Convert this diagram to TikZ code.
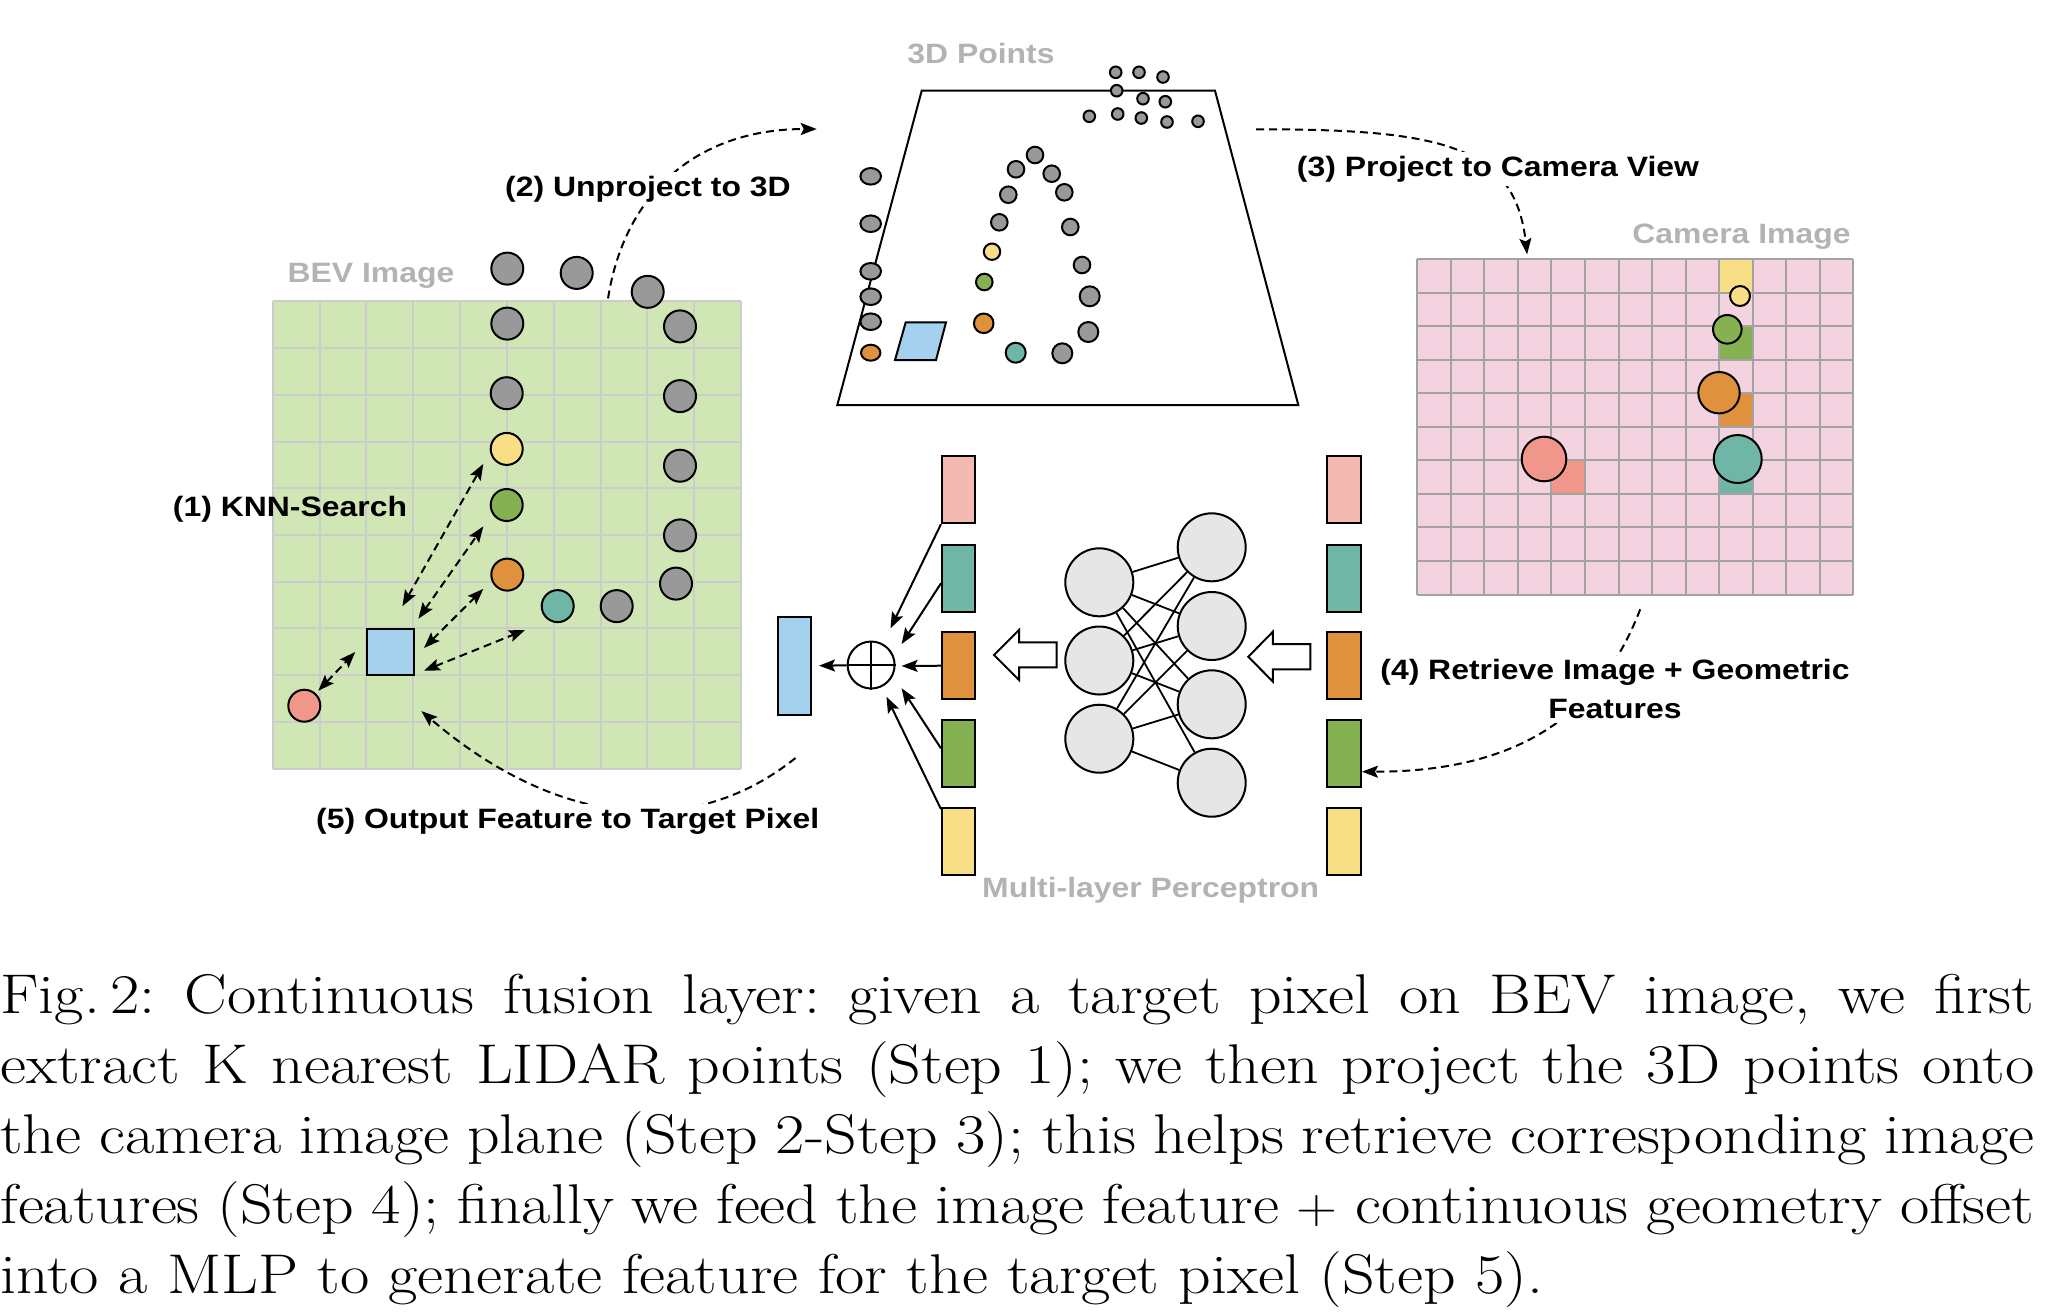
\documentclass[tikz,border=0pt]{standalone}
\usepackage{fontspec}
\usepackage{graphicx}
\newfontfamily\labfont{Liberation Sans}
\usetikzlibrary{arrows.meta,calc,shapes.geometric}
\definecolor{bevfill}{HTML}{D1E6B5}
\definecolor{bevline}{HTML}{CCCCCC}
\definecolor{camfill}{HTML}{F3D3DF}
\definecolor{camline}{HTML}{A3A3A3}
\definecolor{graytxt}{HTML}{B3B3B3}
\definecolor{dotgray}{HTML}{999999}
\definecolor{neur}{HTML}{E6E6E6}
\definecolor{pinkc}{HTML}{F4BAB2}
\definecolor{tealc}{HTML}{6FB6A6}
\definecolor{orangec}{HTML}{E0913D}
\definecolor{greenc}{HTML}{86B152}
\definecolor{yellowc}{HTML}{F8DE84}
\definecolor{bluec}{HTML}{A5D1EF}
\definecolor{redc}{HTML}{F0968A}
\newcommand{\sx}[1]{\scalebox{1.14}[1]{#1}}
\newcommand{\capline}[1]{\sx{\makebox[892.1pt][s]{#1}}}
\begin{document}
\begin{tikzpicture}[x=0.5pt,y=-0.5pt,
  >={Stealth[length=8pt,width=6pt,inset=1.5pt]},
  lab/.style={font=\labfont\bfseries\fontsize{14}{19.2}\selectfont, inner sep=2pt},
  glab/.style={lab, text=graytxt},
  dot/.style={circle, draw, line width=1pt, inner sep=0pt, minimum size=16pt},
  feat/.style={draw, line width=1pt, minimum width=16.75pt, minimum height=33.5pt, inner sep=0pt},
  neuron/.style={circle, draw, line width=1pt, fill=neur, minimum size=34pt, inner sep=0pt},
  dsh/.style={line width=1pt, dash pattern=on 4pt off 2.5pt},
  sol/.style={line width=1pt},
  shape3d/.style={draw, line width=1pt}]
\useasboundingbox (0,0) rectangle (2054,1314);

% ---------------- BEV image ----------------
\node[fill=bevfill, minimum width=234.15pt, minimum height=233.6pt, inner sep=0pt, anchor=north west] (bev) at (272.7,301.4) {};
\foreach \i in {0,...,10} {
  \draw[bevline, line width=1pt] (272.7+46.83*\i,301.4) -- (272.7+46.83*\i,768.6);
  \draw[bevline, line width=1pt] (272.7,301.4+46.72*\i) -- (741,301.4+46.72*\i);
}
\node[draw, line width=1pt, fill=bluec, minimum width=23.4pt, minimum height=23.4pt, inner sep=0pt] (sq) at (390.3,652) {};
\node[dot, fill=dotgray] (g1) at (507.3,268.6) {};
\node[dot, fill=dotgray] (g2) at (576.7,272.9) {};
\node[dot, fill=dotgray] (g3) at (647.7,291.8) {};
\node[dot, fill=dotgray] (g4) at (507.3,323.6) {};
\node[dot, fill=dotgray] (g5) at (680,326.4) {};
\node[dot, fill=dotgray] (g6) at (506.7,393.2) {};
\node[dot, fill=dotgray] (g7) at (680,396.1) {};
\node[dot, fill=yellowc] (yel) at (506.7,448.9) {};
\node[dot, fill=dotgray] (g8) at (680,465.7) {};
\node[dot, fill=greenc] (grn) at (506.7,505) {};
\node[dot, fill=dotgray] (g9) at (680,535.4) {};
\node[dot, fill=orangec] (org) at (507.3,574.6) {};
\node[dot, fill=dotgray] (g10) at (676,583.6) {};
\node[dot, fill=tealc] (tea) at (557.7,606.1) {};
\node[dot, fill=dotgray] (g11) at (616.7,606.1) {};
\node[dot, fill=redc] (red) at (304.3,705.7) {};

% KNN arrows
\draw[dsh,<->] ([shift={(-12.3,-21.4)}]sq.north east) -- ([shift={(-23.4,15)}]yel.center);
\draw[dsh,<->] ([shift={(3.7,-8.9)}]sq.north east) -- ([shift={(-23.4,21.4)}]grn.center);
\draw[dsh,<->] ([shift={(9.3,20.4)}]sq.north east) -- ([shift={(-24,14.3)}]org.center);
\draw[dsh,<->] ([shift={(9.3,-5.7)}]sq.south east) -- ([shift={(-32.7,23.9)}]tea.center);
\draw[dsh,<->] ([shift={(14,-15)}]red.center) -- ([shift={(-10.7,0)}]sq.west);

% ---------------- 3D points ----------------
\draw[shape3d] (921.7,90.7) -- (1215,90.7) -- (1298.3,405) -- (837.3,405) -- cycle;
\foreach \x/\y in {1115.7/72.3, 1139/72.3, 1163/77, 1116.7/90.7, 1143/98.7, 1165.3/101.7, 1089.3/116.3, 1117.7/114, 1141.3/118, 1167/122, 1198/121.3}
  \draw[shape3d, fill=dotgray] (\x,\y) circle [radius=5.8];
\foreach \y in {176.3, 223.7, 271.3, 296.7, 321.7}
  \draw[shape3d, fill=dotgray] (870.7,\y) ellipse [x radius=10.3, y radius=8.3];
\draw[shape3d, fill=orangec] (870.7,352.7) ellipse [x radius=9.7, y radius=8];
\draw[shape3d, fill=bluec] (905.7,322.3) -- (946,322.3) -- (936,360) -- (895,360) -- cycle;
\foreach \x/\y in {1035/155, 1016/169.3, 1051.7/173.7, 1008.3/194.7, 1064.3/192.3, 999.3/222.3, 1070.3/227, 1082/265}
  \draw[shape3d, fill=dotgray] (\x,\y) circle [radius=8.3];
\foreach \x/\y in {1089.7/296.3, 1088.3/332, 1062.3/353.3}
  \draw[shape3d, fill=dotgray] (\x,\y) circle [radius=10];
\draw[shape3d, fill=yellowc] (992,251.7) circle [radius=8.2];
\draw[shape3d, fill=greenc] (984.3,282) circle [radius=8.3];
\draw[shape3d, fill=orangec] (983.7,323.3) circle [radius=9.8];
\draw[shape3d, fill=tealc] (1015.7,352.7) circle [radius=10];

% ---------------- Camera image ----------------
\node[fill=camfill, minimum width=218pt, minimum height=167.6pt, inner sep=0pt, anchor=north west] (cam) at (1417.3,259.3) {};
\fill[yellowc] (1719.2,259.3) rectangle (1752.7,292.8);
\fill[greenc] (1719.2,326.3) rectangle (1752.7,359.9);
\fill[orangec] (1719.2,393.4) rectangle (1752.7,426.9);
\fill[tealc] (1719.2,460.4) rectangle (1752.7,493.9);
\fill[redc] (1551.5,460.4) rectangle (1585,493.9);
\foreach \i in {0,...,13}
  \draw[camline, line width=1pt] (1417.3+33.54*\i,259.3) -- (1417.3+33.54*\i,594.5);
\foreach \i in {0,...,10}
  \draw[camline, line width=1pt] (1417.3,259.3+33.52*\i) -- (1853.3,259.3+33.52*\i);
\draw[shape3d, fill=yellowc] (1740,296) circle [radius=10];
\draw[shape3d, fill=greenc] (1727.3,329.3) circle [radius=14.3];
\draw[shape3d, fill=orangec] (1719,392.7) circle [radius=20.7];
\draw[shape3d, fill=redc] (1544,459) circle [radius=22.3];
\draw[shape3d, fill=tealc] (1737.7,459) circle [radius=24];

% ---------------- Feature vectors ----------------
\node[feat, fill=pinkc] (fl1) at (958.7,489.7) {};
\node[feat, fill=tealc] (fl2) at (958.7,578) {};
\node[feat, fill=orangec] (fl3) at (958.7,665.7) {};
\node[feat, fill=greenc] (fl4) at (958.7,753.3) {};
\node[feat, fill=yellowc] (fl5) at (958.7,841.3) {};
\node[feat, fill=pinkc] (fr1) at (1344.2,489.7) {};
\node[feat, fill=tealc] (fr2) at (1344.2,578) {};
\node[feat, fill=orangec] (fr3) at (1344.2,665.7) {};
\node[feat, fill=greenc] (fr4) at (1344.2,753.3) {};
\node[feat, fill=yellowc] (fr5) at (1344.2,841.3) {};
\node[draw, line width=1pt, fill=bluec, minimum width=16.5pt, minimum height=49pt, inner sep=0pt] (outv) at (794.5,666) {};

% oplus
\node[circle, draw, line width=1pt, minimum size=23.5pt, inner sep=0pt] (op) at (871.1,665) {};
\draw[sol] (op.north) -- (op.south) (op.west) -- (op.east);
\coordinate (a1) at ($(op)+(19.4,-36.7)$);
\coordinate (a2) at ($(op)+(30.5,-21)$);
\coordinate (a3) at ($(op)+(30.5,1)$);
\coordinate (a4) at ($(op)+(30.5,23.3)$);
\coordinate (a5) at ($(op)+(15.4,31.7)$);
\draw[sol,->] (fl1.south west) -- (a1);
\draw[sol,->] ([shift={(0,5.3)}]fl2.west) -- (a2);
\draw[sol,->] (fl3.west) -- (a3);
\draw[sol,->] ([shift={(0,-5)}]fl4.west) -- (a4);
\draw[sol,->] ([shift={(0,2.3)}]fl5.north west) -- (a5);
\draw[sol,->,shorten >=3.5pt] (op) -- (outv);

% block arrows
\draw[sol, fill=white] (994,655) -- (1019,630) -- (1019,642.3) -- (1056.6,642.3) -- (1056.6,667.3) -- (1019,667.3) -- (1019,680) -- cycle;
\draw[sol, fill=white] (1248.3,656.7) -- (1272.9,631.7) -- (1272.9,644) -- (1310.4,644) -- (1310.4,669.3) -- (1272.9,669.3) -- (1272.9,681.7) -- cycle;

% MLP
\node[neuron] (L1) at (1099.3,582.3) {};
\node[neuron] (L2) at (1099.3,660.5) {};
\node[neuron] (L3) at (1099.3,738.7) {};
\node[neuron] (R1) at (1211.7,547.3) {};
\node[neuron] (R2) at (1211.7,626) {};
\node[neuron] (R3) at (1211.7,704.3) {};
\node[neuron] (R4) at (1211.7,782.7) {};
\foreach \a/\b in {1/1,1/2,1/3,1/4,2/1,2/2,2/3,3/1,3/2,3/3,3/4}
  \draw[line width=0.9pt] (L\a) -- (R\b);

% ---------------- step connectors ----------------
\coordinate (u2e) at (816.7,129);
\coordinate (p3s) at (1256,129.3);
\draw[dsh,->] ([shift={(100.8,-3)}]bev.north) .. controls (625,190) and (700,129) .. (u2e);
\draw[dsh,->] (p3s) .. controls (1440,129) and (1515,145) .. ([shift={(-108.6,-5)}]cam.north);
\draw[dsh,->] ([shift={(4.5,14)}]cam.south) .. controls (1597.4,720.7) and (1511,771.7) .. ([shift={(0,18.4)}]fr4.east);
\draw[dsh,->] ([shift={(1,42)}]outv.south) .. controls (686.3,845.2) and (549.9,820.9) .. ([shift={(6.7,34.7)}]sq.south east);

% ---------------- labels ----------------
\node[lab] (l1) at (290,509) {\sx{(1) KNN-Search}};
\node[lab, fill=white] (l2) at (648,189) {\sx{(2) Unproject to 3D}};
\node[lab, fill=white] (l3) at (1498,169) {\sx{(3) Project to Camera View}};
\node[lab, fill=white, align=center] (l4) at (1615,689) {\sx{(4) Retrieve Image + Geometric}\\\sx{Features}};
\node[lab, fill=white] (l5) at (567.7,821) {\sx{(5) Output Feature to Target Pixel}};
\node[glab] (t1) at (371,276) {\sx{BEV Image}};
\node[glab] (t2) at (981,54) {\sx{3D Points}};
\node[glab, anchor=east] (t3) at (1855,237) {\sx{Camera Image}};
\node[glab] (t4) at (1150.7,890) {\sx{Multi-layer Perceptron}};

% ---------------- caption ----------------
\node[anchor=base west, inner sep=0pt] (cap) at (0,1013) {\parbox[t]{1017pt}{\fontsize{28}{35}\selectfont\frenchspacing
\capline{Fig.\,2: Continuous fusion layer: given a target pixel on BEV image, we first}\\
\capline{extract K nearest LIDAR points (Step 1); we then project the 3D points onto}\\
\capline{the camera image plane (Step 2-Step 3); this helps retrieve corresponding image}\\
\capline{features (Step 4); finally we feed the image feature $+$ continuous geometry offset}\\
\sx{into a MLP to generate feature for the target pixel (Step 5).}}};
\end{tikzpicture}
\end{document}
